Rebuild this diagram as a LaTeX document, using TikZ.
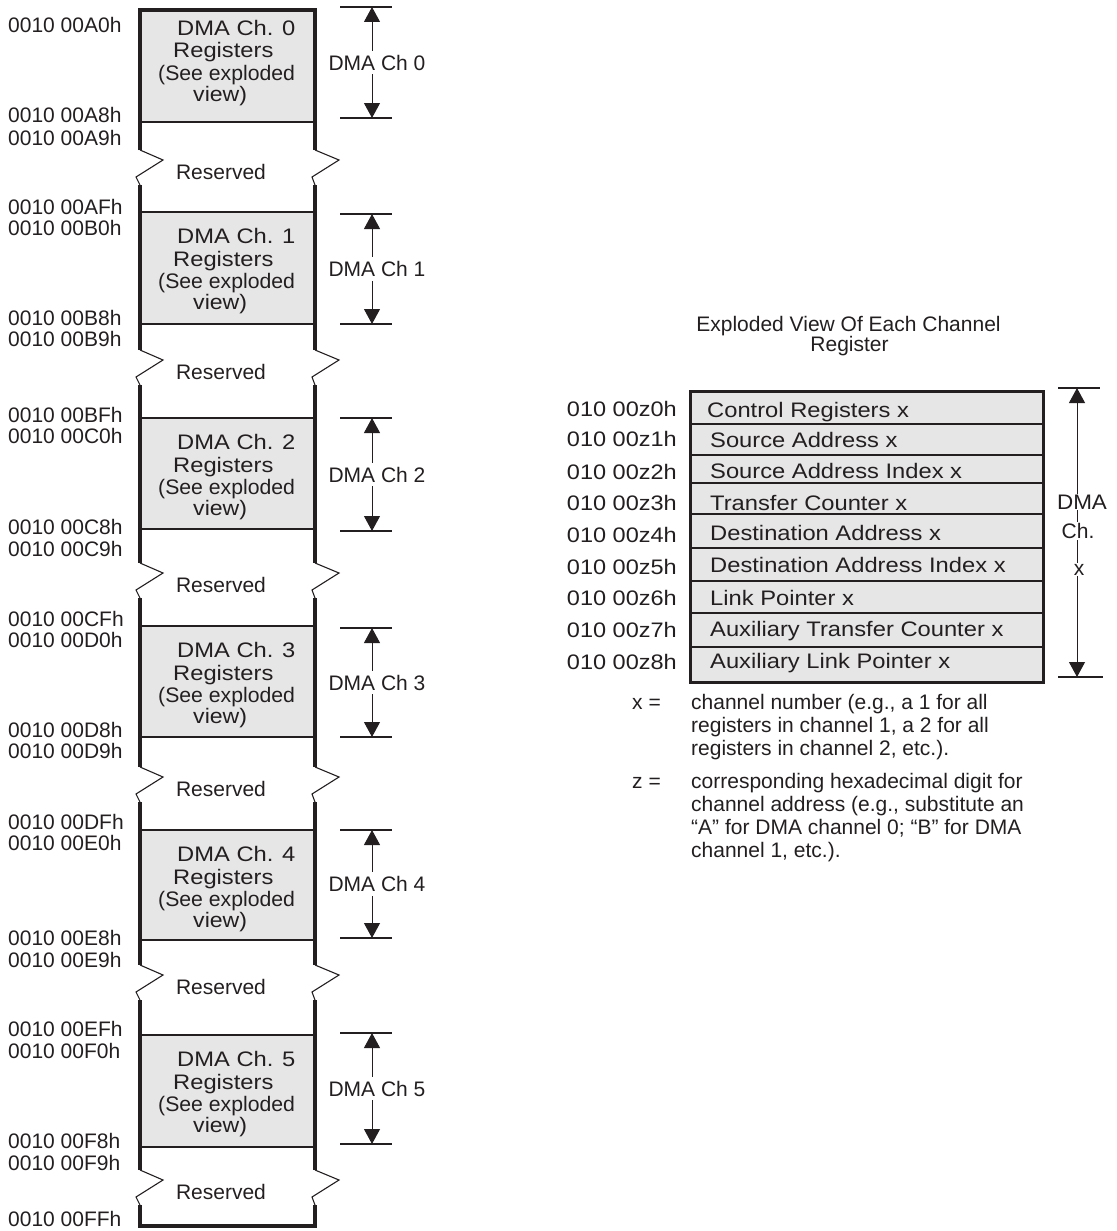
\documentclass[tikz,border=0pt]{standalone}
\usepackage{graphicx}
\usepackage{fontspec}
\setmainfont{Liberation Sans}
\usetikzlibrary{arrows.meta}
\definecolor{boxgray}{RGB}{230,230,230}
\definecolor{ink}{RGB}{35,31,32}
\newcommand{\hs}[2]{\scalebox{#1}[1]{#2}}
\begin{document}
\begin{tikzpicture}[x=1pt,y=-1pt,
  every node/.style={inner sep=0pt,text=ink},
  frame/.style={line width=3.5pt,draw=ink,line join=miter},
  sepline/.style={line width=1.3pt,draw=ink},
  zigline/.style={line width=1.1pt,draw=ink,line join=miter},
  tickline/.style={line width=1.6pt,draw=ink},
  dimarrow/.style={line width=1pt,draw=ink,{Triangle[length=15pt,width=16pt]}-{Triangle[length=15pt,width=16pt]}},
  addr/.style={anchor=base west,font=\fontsize{21}{24}\selectfont},
  boxtxt/.style={anchor=base west,font=\fontsize{21}{24}\selectfont},
  restxt/.style={anchor=base,font=\fontsize{21}{24}\selectfont},
  dimlbl/.style={fill=white,inner xsep=1pt,inner ysep=4pt,font=\fontsize{21}{24}\selectfont},
  regtxt/.style={anchor=base west,font=\fontsize{21}{24}\selectfont},
  raddr/.style={anchor=base east,font=\fontsize{21}{24}\selectfont},
  lgd/.style={anchor=base west,font=\fontsize{21}{24}\selectfont},
  vlbl/.style={fill=white,inner xsep=0pt,inner ysep=1pt,font=\fontsize{21}{24}\selectfont}
]
\useasboundingbox (0,0) rectangle (1116,1231);

% ---------------- left memory map ----------------
\foreach \n/\T/\B/\Dt/\Db/\yb/\o in {0/10/122/7/118/150/-6, 1/212/324/214/324/350/0, 2/418/529/418/531/563/0, 3/626/737/628/737/767/0, 4/830/940/830/938/965/0, 5/1035/1147/1033/1144/1170/0}{
  \fill[boxgray] (140,\T) rectangle (315,\B);
  \draw[sepline] (140,\T) -- (315,\T);
  \draw[sepline] (140,\B) -- (315,\B);
  \node[boxtxt] (ch\n-a) at (177,\T+31.5+\o) {\hs{1.13}{DMA Ch. \n}};
  \node[boxtxt] (ch\n-b) at (173,\T+54+\o) {\hs{1.13}{Registers}};
  \node[boxtxt] (ch\n-c) at (158,\T+76.5+\o) {\hs{1.01}{(See exploded}};
  \node[boxtxt] (ch\n-d) at (193,\T+97.5+\o) {\hs{1.1}{view)}};
  % break
  \draw[zigline] (140,\yb) -- (163,\yb+10) -- (136,\yb+27) -- (140,\yb+35);
  \draw[zigline] (315,\yb) -- (339,\yb+10) -- (312,\yb+27) -- (315,\yb+35);
  \node[restxt] (res\n) at (221,\yb+29.5) {Reserved};
  % dimension
  \draw[tickline] (340,\Dt) -- (392,\Dt);
  \draw[tickline] (340,\Db) -- (392,\Db);
  \coordinate (dt\n) at (372,\Dt);
  \coordinate (db\n) at (372,\Db);
  \draw[dimarrow] (dt\n) -- (db\n);
  \node[dimlbl] (dl\n) at (377,{(\Dt+\Db)/2}) {DMA Ch \n};
}
% thick outer frame segments
\draw[frame] (140,150) -- (140,10) -- (315,10) -- (315,150);
\draw[frame] (140,185) -- (140,350);  \draw[frame] (315,185) -- (315,350);
\draw[frame] (140,385) -- (140,563);  \draw[frame] (315,385) -- (315,563);
\draw[frame] (140,598) -- (140,767);  \draw[frame] (315,598) -- (315,767);
\draw[frame] (140,802) -- (140,965);  \draw[frame] (315,802) -- (315,965);
\draw[frame] (140,1000) -- (140,1170); \draw[frame] (315,1000) -- (315,1170);
\draw[frame] (140,1205) -- (140,1226) -- (315,1226) -- (315,1205);

% address labels
\foreach \y/\t [count=\k] in {25/0010 00A0h, 115/0010 00A8h, 138/0010 00A9h, 207/0010 00AFh, 228/0010 00B0h, 318/0010 00B8h, 339/0010 00B9h, 415/0010 00BFh, 436/0010 00C0h, 527/0010 00C8h, 549/0010 00C9h, 619/0010 00CFh, 640/0010 00D0h, 730/0010 00D8h, 751/0010 00D9h, 822/0010 00DFh, 843/0010 00E0h, 938/0010 00E8h, 960/0010 00E9h, 1029/0010 00EFh, 1051/0010 00F0h, 1141/0010 00F8h, 1163/0010 00F9h, 1219/0010 00FFh}{
  \node[addr] (ad\k) at (8,\y+7.5) {\t};
}

% ---------------- exploded view ----------------
\node[anchor=base,font=\fontsize{21}{24}\selectfont] (title1) at (848.5,331.5) {Exploded View Of Each Channel};
\node[anchor=base,font=\fontsize{21}{24}\selectfont] (title2) at (849.5,351) {Register};

\fill[boxgray] (690,391) rectangle (1043,682);
\foreach \y in {424,455,483,514,548,581,613,647}{
  \draw[sepline] (690,\y) -- (1043,\y);
}
\draw[line width=3pt,draw=ink] (690,391) rectangle (1043,682);

\foreach \x/\y/\t [count=\k] in {707/417/Control Registers x, 710/447/Source Address x, 710/478/Source Address Index x, 710/510/Transfer Counter x, 710/540/Destination Address x, 710/572/Destination Address Index x, 710/605/Link Pointer x, 710/636/Auxiliary Transfer Counter x, 710/668/Auxiliary Link Pointer x}{
  \node[regtxt] (rg\k) at (\x,\y) {\hs{1.13}{\t}};
}
\foreach \y/\t [count=\k] in {416.5/010 00z0h, 446.5/010 00z1h, 479.5/010 00z2h, 510.5/010 00z3h, 542.5/010 00z4h, 574.5/010 00z5h, 605.5/010 00z6h, 637.5/010 00z7h, 669.5/010 00z8h}{
  \node[raddr] (ra\k) at (677,\y) {\hs{1.12}{\t}};
}

% exploded dimension
\draw[tickline] (1058,388) -- (1100,388);
\draw[tickline] (1058,677) -- (1103,677);
\coordinate (xt) at (1077,388);
\coordinate (xb) at (1077,677);
\draw[dimarrow] (xt) -- (xb);
\node[vlbl] (xl1) at (1082,502) {\hs{1.07}{DMA}};
\node[vlbl] (xl2) at (1078,531) {Ch.};
\node[vlbl,anchor=base] (xl3) at (1079,575) {x};

% legend
\node[lgd] (lx) at (632,709) {x =};
\node[lgd] (lx1) at (691,709) {channel number (e.g., a 1 for all};
\node[lgd] (lx2) at (691,732.3) {registers in channel 1, a 2 for all};
\node[lgd] (lx3) at (691,755.6) {registers in channel 2, etc.).};
\node[lgd] (lz) at (632,788) {z =};
\node[lgd] (lz1) at (691,788) {corresponding hexadecimal digit for};
\node[lgd] (lz2) at (691,811.3) {channel address (e.g., substitute an};
\node[lgd] (lz3) at (691,834.6) {“A” for DMA channel 0; “B” for DMA};
\node[lgd] (lz4) at (691,857.9) {channel 1, etc.).};
\end{tikzpicture}
\end{document}
